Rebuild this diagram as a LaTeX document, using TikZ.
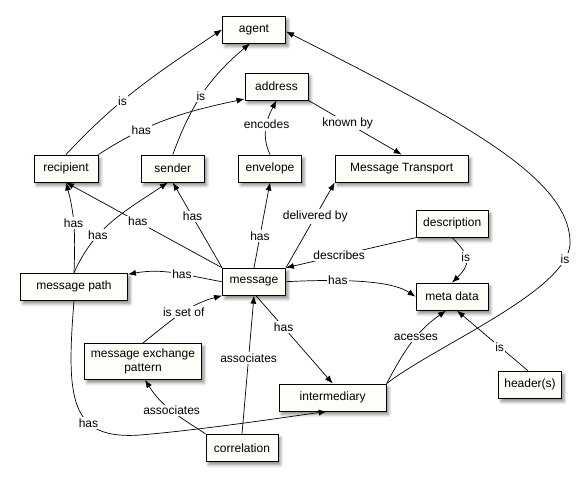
\documentclass[tikz,border=0pt]{standalone}
\usepackage{fontspec}
\setmainfont{Liberation Sans}
\usetikzlibrary{arrows.meta,shadows.blur}
\definecolor{boxfill}{HTML}{FFFDF7}
\begin{document}
\begin{tikzpicture}[x=1pt,y=1pt,
  box/.style={draw=black, line width=0.9pt, fill=boxfill, minimum height=27pt, inner sep=2pt,
    font=\fontsize{12}{14}\selectfont, align=center,
    blur shadow={shadow xshift=2.5pt, shadow yshift=-3.5pt, shadow blur radius=3pt, shadow opacity=45}},
  lbl/.style={fill=white, inner sep=1.5pt, font=\fontsize{12}{14}\selectfont},
  edge/.style={draw=black, line width=0.7pt, -{Latex[length=8pt,width=6pt]}}]
\useasboundingbox (0,0) rectangle (588,-485);
% nodes
\node[box, minimum width=63pt] (agent) at (254,-29.5) {agent};
\node[box, minimum width=63pt] (address) at (276.5,-86.5) {address};
\node[box, minimum width=64pt] (recipient) at (66,-168.5) {recipient};
\node[box, minimum width=63pt] (sender) at (172.8,-168.5) {sender};
\node[box, minimum width=63pt] (envelope) at (270,-168.5) {envelope};
\node[box, minimum width=133pt] (mt) at (401.7,-168.5) {Message Transport};
\node[box, minimum width=72pt] (desc) at (452.2,-223.7) {description};
\node[box, minimum width=63pt] (message) at (254,-281.7) {message};
\node[box, minimum width=107pt] (mpath) at (74,-286.7) {message path};
\node[box, minimum width=72pt] (meta) at (452,-296.7) {meta data};
\node[box, minimum width=117pt, minimum height=36pt] (mep) at (143,-361.3) {message exchange\\pattern};
\node[box, minimum width=107pt] (inter) at (332.7,-397.5) {intermediary};
\node[box, minimum width=63pt] (header) at (530,-384.7) {header(s)};
\node[box, minimum width=72pt] (corr) at (242,-447.8) {correlation};
% edges
\draw[edge] (recipient.north) to[out=47,in=214] node[lbl,pos=0.38]{is} (agent.west);
\draw[edge] (sender.north) to[out=70,in=220] node[lbl,pos=0.47]{is} ([xshift=-4pt]agent.south);
\draw[edge] (recipient.north east) to[out=33,in=192] node[lbl,pos=0.3]{has} ([yshift=1.5pt]address.south west);
\draw[edge] (envelope.north) to[out=115,in=242] node[lbl,pos=0.55]{encodes} (address.south);
\draw[edge] (address.south east) -- node[lbl,pos=0.42]{known by} (mt.north);
\draw[edge] (inter.north east) .. controls (435,-346) and (565,-292) .. (570,-245) node[lbl,pos=0.9]{is}
  .. controls (572,-180) and (470,-125) .. ([yshift=-2pt]agent.east);
\draw[edge] (message.north west) -- node[lbl,pos=0.54]{has} (recipient.south);
\draw[edge] (mpath.north) to[out=88,in=-75] node[lbl,pos=0.55]{has} (recipient.south);
\draw[edge] (mpath.north) to[out=66,in=214] node[lbl,pos=0.33]{has} ([xshift=-5pt]sender.south);
\draw[edge] (message.north west) -- node[lbl,pos=0.6]{has} (sender.south);
\draw[edge] (message.north) -- node[lbl,pos=0.37]{has} (envelope.south);
\draw[edge] (message.north east) -- node[lbl,pos=0.6]{delivered by} (mt.south west);
\draw[edge] (desc.south west) -- node[lbl,pos=0.59]{describes} (message.north east);
\draw[edge] (desc.south) to[out=-45,in=45,looseness=1.5] node[lbl,pos=0.42]{is} (meta.north);
\draw[edge] (message.west) to[out=170,in=10] node[lbl,pos=0.42]{has} ([yshift=-1.5pt]mpath.north east);
\draw[edge] (message.east) .. controls (360,-278) and (395,-283) .. (meta.west) node[lbl,pos=0.27]{has};
\draw[edge] (mep.north) to[out=38,in=195] node[lbl,pos=0.55]{is set of} (message.south west);
\draw[edge] ([xshift=2pt]message.south) -- node[lbl,pos=0.36]{has} (inter.north);
\draw[edge] (inter.north east) to[out=62,in=215] node[lbl,pos=0.58]{acesses} ([xshift=-6pt]meta.south);
\draw[edge] ([xshift=-2pt]header.north) -- node[lbl,pos=0.4]{is} ([xshift=5pt]meta.south);
\draw[edge] (corr.north) -- node[lbl,pos=0.55]{associates} (message.south);
\draw[edge] (corr.north west) to[out=147,in=-58] node[lbl,pos=0.5]{associates} ([xshift=2pt]mep.south);
\draw[edge] (mpath.south) .. controls (66,-400) and (70,-440) .. (140,-435) node[lbl,pos=0.65]{has}
  .. controls (200,-430) and (280,-418) .. ([xshift=-6pt]inter.south);
\end{tikzpicture}
\end{document}
